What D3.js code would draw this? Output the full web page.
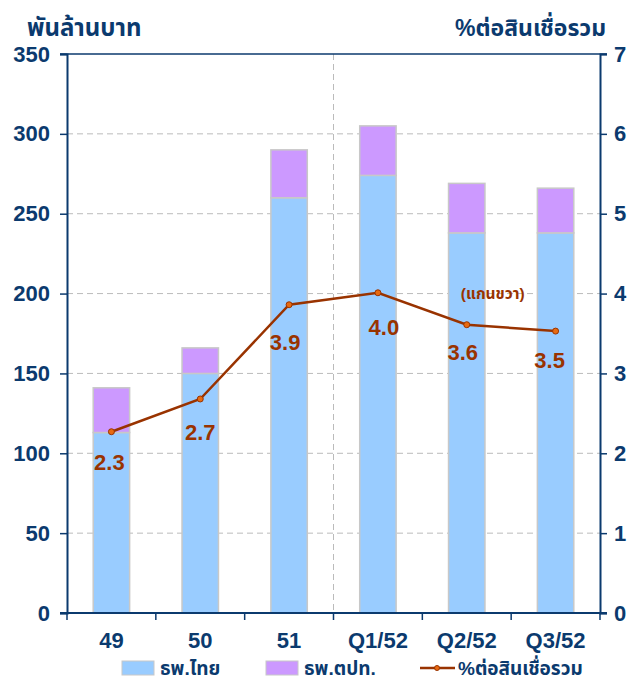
<!DOCTYPE html>
<html>
<head>
<meta charset="utf-8">
<script src="https://cdn.jsdelivr.net/npm/d3@7"></script>
<style>
  body { margin: 0; background: #fff; }
  text { font-family: Arial, "Liberation Sans", "Noto Sans Thai", sans-serif; font-weight: bold; }
</style>
</head>
<body>
<svg id="chart"></svg>
<script>
const categories = ["49", "50", "51", "Q1/52", "Q2/52", "Q3/52"];
const thaiBanks = [113, 150, 260, 274, 238, 238];
const foreignBanks = [28, 16, 30, 31, 31, 28];
const pctLoans = [2.27, 2.68, 3.86, 4.01, 3.61, 3.53];
const leftTicks = [0, 50, 100, 150, 200, 250, 300, 350];
const rightTicks = [0, 1, 2, 3, 4, 5, 6, 7];

const W = 641, H = 686;
const margin = { top: 54, right: 41, bottom: 73, left: 67 };
const width = W - margin.left - margin.right;
const height = H - margin.top - margin.bottom;
const navy = "#0B3A6E";
const brown = "#993300";

const svg = d3.select("#chart").attr("width", W).attr("height", H);
const g = svg.append("g").attr("transform", `translate(${margin.left},${margin.top})`);

const x = d3.scaleBand().domain(categories).range([0, width]).paddingInner(0.59).paddingOuter(0.295);
const xBand = d3.scaleBand().domain(categories).range([0, width]);
const y = d3.scaleLinear().domain([0, 350]).range([height, 0]);
const y2 = d3.scaleLinear().domain([0, 7]).range([height, 0]);

// grid
g.selectAll(".grid").data(leftTicks.filter(d => d > 0 && d < 350)).enter().append("line")
  .attr("x1", 0).attr("x2", width)
  .attr("y1", d => y(d)).attr("y2", d => y(d))
  .attr("stroke", "#BBBBBB").attr("stroke-dasharray", "6,4");

// divider between annual and quarterly
g.append("line")
  .attr("x1", xBand("Q1/52")).attr("x2", xBand("Q1/52"))
  .attr("y1", 0).attr("y2", height)
  .attr("stroke", "#BBBBBB").attr("stroke-dasharray", "6,4");

// stacked bars
const stackData = categories.map((c, i) => ({ cat: c, thai: thaiBanks[i], foreign: foreignBanks[i] }));
const series = d3.stack().keys(["thai", "foreign"])(stackData);
const colors = { thai: "#99CCFF", foreign: "#CC99FF" };

g.selectAll(".series").data(series).enter().append("g")
  .attr("fill", d => colors[d.key])
  .selectAll("rect").data(d => d).enter().append("rect")
  .attr("x", d => x(d.data.cat))
  .attr("y", d => y(d[1]))
  .attr("width", x.bandwidth())
  .attr("height", d => y(d[0]) - y(d[1]))
  .attr("stroke", "#C8C8C8").attr("stroke-width", 1.5);

// top border line
g.append("line").attr("x1", -7).attr("x2", width + 7).attr("y1", 0).attr("y2", 0)
  .attr("stroke", navy).attr("stroke-width", 1.5);

// axes
const leftAxis = g.append("g")
  .call(d3.axisLeft(y).tickValues(leftTicks).tickSize(7).tickPadding(10));
const rightAxis = g.append("g").attr("transform", `translate(${width},0)`)
  .call(d3.axisRight(y2).tickValues(rightTicks).tickFormat(d3.format("d")).tickSize(7).tickPadding(7));
const bottomAxis = g.append("g").attr("transform", `translate(0,${height})`)
  .call(d3.axisBottom(xBand).tickSize(0).tickPadding(19));

bottomAxis.selectAll(".tick line").remove();
bottomAxis.selectAll(".tick.edge").data(d3.range(categories.length + 1)).enter().append("line")
  .attr("x1", i => i * xBand.step()).attr("x2", i => i * xBand.step())
  .attr("y1", 0).attr("y2", 7).attr("stroke", navy).attr("stroke-width", 1.5);

[leftAxis, rightAxis, bottomAxis].forEach(a => {
  a.select(".domain").attr("stroke", navy).attr("stroke-width", 2);
  a.selectAll(".tick line").attr("stroke", navy).attr("stroke-width", 1.5);
  a.selectAll("text").attr("fill", navy).style("font-size", "22px").style("font-weight", "bold");
});
bottomAxis.select(".domain").attr("d", `M-7,0H${width + 7}`);

// line
const lineX = c => xBand(c) + xBand.bandwidth() / 2;
const line = d3.line().x((d, i) => lineX(categories[i])).y(d => y2(d));
g.append("path").datum(pctLoans).attr("d", line)
  .attr("fill", "none").attr("stroke", brown).attr("stroke-width", 2.5);
g.selectAll(".dot").data(pctLoans).enter().append("circle")
  .attr("cx", (d, i) => lineX(categories[i])).attr("cy", d => y2(d))
  .attr("r", 3).attr("fill", "#E86A10").attr("stroke", brown).attr("stroke-width", 1);

const labelDx = [-2, 0, -4, 6, -4, -6];
const labelDy = [38, 41, 45, 42, 35, 37];
g.selectAll(".lbl").data(pctLoans).enter().append("text")
  .attr("x", (d, i) => lineX(categories[i]) + labelDx[i])
  .attr("y", (d, i) => y2(d) + labelDy[i])
  .attr("text-anchor", "middle").attr("fill", brown)
  .style("font-size", "22px")
  .text(d => d.toFixed(1));

g.append("text").attr("x", lineX("Q2/52") + 26).attr("y", y2(4) + 5)
  .attr("text-anchor", "middle").attr("fill", brown).style("font-size", "15.5px")
  .text("(แกนขวา)");

// axis titles
svg.append("text").attr("x", 27).attr("y", 36).attr("fill", navy)
  .style("font-size", "24px").text("พันล้านบาท");
svg.append("text").attr("x", 606).attr("y", 36).attr("text-anchor", "end").attr("fill", navy)
  .style("font-size", "23px").text("%ต่อสินเชื่อรวม");

// legend
const legend = svg.append("g").attr("transform", "translate(0,668)");
const legendItems = [
  { label: "ธพ.ไทย", x: 122, type: "rect", color: colors.thai },
  { label: "ธพ.ตปท.", x: 266, type: "rect", color: colors.foreign },
  { label: "%ต่อสินเชื่อรวม", x: 420, type: "line", color: brown }
];
legendItems.forEach(it => {
  if (it.type === "rect") {
    legend.append("rect").attr("x", it.x).attr("y", -7).attr("width", 32).attr("height", 14)
      .attr("fill", it.color).attr("stroke", "#C8C8C8").attr("stroke-width", 1);
  } else {
    legend.append("line").attr("x1", it.x).attr("x2", it.x + 35).attr("y1", 0).attr("y2", 0)
      .attr("stroke", it.color).attr("stroke-width", 2.5);
    legend.append("circle").attr("cx", it.x + 17).attr("cy", 0).attr("r", 2.5)
      .attr("fill", "#E86A10").attr("stroke", brown);
  }
  legend.append("text").attr("x", it.x + 38).attr("y", 7)
    .attr("fill", navy).style("font-size", "19px").text(it.label);
});
</script>
</body>
</html>
